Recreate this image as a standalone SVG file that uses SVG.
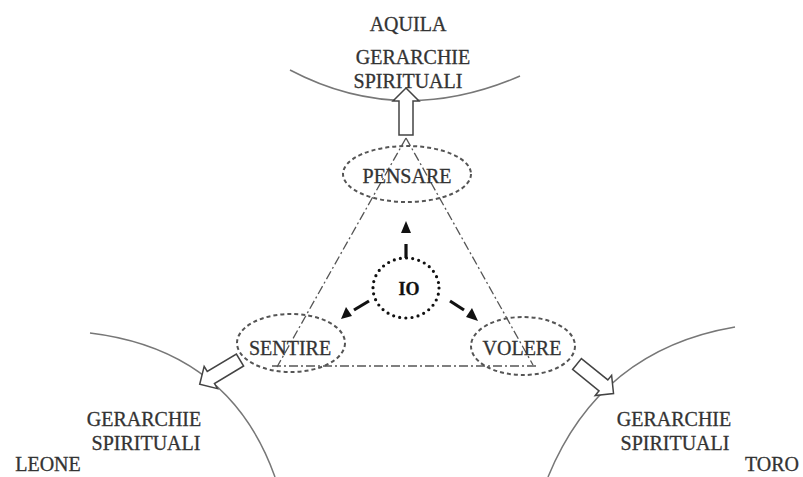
<svg xmlns="http://www.w3.org/2000/svg" width="803" height="477" viewBox="0 0 803 477">
<defs>
<style>
.t{font-family:"Liberation Serif","Times New Roman",serif;font-size:20px;fill:#333;stroke:#333;stroke-width:0.3;text-anchor:middle}
.arc{fill:none;stroke:#777;stroke-width:1.5}
.dd{fill:none;stroke:#555;stroke-width:1.3;stroke-dasharray:9 3 2 3}
.ell{fill:none;stroke:#555;stroke-width:2;stroke-dasharray:4 3}
.hol{fill:#fff;stroke:#444;stroke-width:1.5;stroke-linejoin:miter}
.dsh{stroke:#111;stroke-width:3.2;fill:none}
.tri{fill:#111}
</style>
<polygon id="harrow" points="0,-7 34,-7 34,-13 47,0 34,13 34,7 0,7"/>
</defs>
<rect width="803" height="477" fill="#fff"/>
<g id="arcs">
<path class="arc" d="M290,70 Q400,128 520,76"/>
<path class="arc" d="M90,333 Q230,350 275,477"/>
<path class="arc" d="M735,327 Q600,350 548,477"/>
</g>
<g id="connectors">
<path class="dd" d="M406,138 L277,367"/>
<path class="dd" d="M406,138 L533,365"/>
<path class="dd" d="M272,366 L538,366"/>
<line class="dsh" x1="406" y1="258" x2="406" y2="244"/>
<polygon class="tri" points="406,221 401,233 411,233"/>
<line class="dsh" x1="369" y1="301" x2="354" y2="310"/>
<polygon class="tri" points="341,319 346,307 352,316"/>
<line class="dsh" x1="450" y1="301" x2="464" y2="310"/>
<polygon class="tri" points="478,321 466,317 472,308"/>
<use href="#harrow" class="hol" transform="translate(406,135) rotate(-90)"/>
<use href="#harrow" class="hol" transform="translate(240,360) rotate(149)"/>
<use href="#harrow" class="hol" transform="translate(577,364) rotate(39)"/>
</g>
<g id="aquila">
<text class="t" x="408" y="31">AQUILA</text>
<text class="t" x="413" y="64">GERARCHIE</text>
<text class="t" x="408" y="88">SPIRITUALI</text>
</g>
<g id="pensare">
<ellipse class="ell" cx="407" cy="174" rx="64" ry="28"/>
<text class="t" x="407" y="183">PENSARE</text>
</g>
<g id="io">
<ellipse cx="406" cy="288" rx="33" ry="30" fill="none" stroke="#111" stroke-width="3.2" stroke-linecap="round" stroke-dasharray="0 6.2"/>
<text class="t" x="409" y="295" style="fill:#111;stroke:#111;font-weight:bold;font-size:18px">IO</text>
</g>
<g id="sentire">
<ellipse class="ell" cx="291" cy="343" rx="54" ry="29"/>
<text class="t" x="290" y="355">SENTIRE</text>
</g>
<g id="volere">
<ellipse class="ell" cx="523" cy="346" rx="52" ry="29"/>
<text class="t" x="522" y="355">VOLERE</text>
</g>
<g id="leone">
<text class="t" x="144" y="426">GERARCHIE</text>
<text class="t" x="146" y="450">SPIRITUALI</text>
<text class="t" x="48" y="471">LEONE</text>
</g>
<g id="toro">
<text class="t" x="674" y="426">GERARCHIE</text>
<text class="t" x="675" y="450">SPIRITUALI</text>
<text class="t" x="772" y="471">TORO</text>
</g>
</svg>
